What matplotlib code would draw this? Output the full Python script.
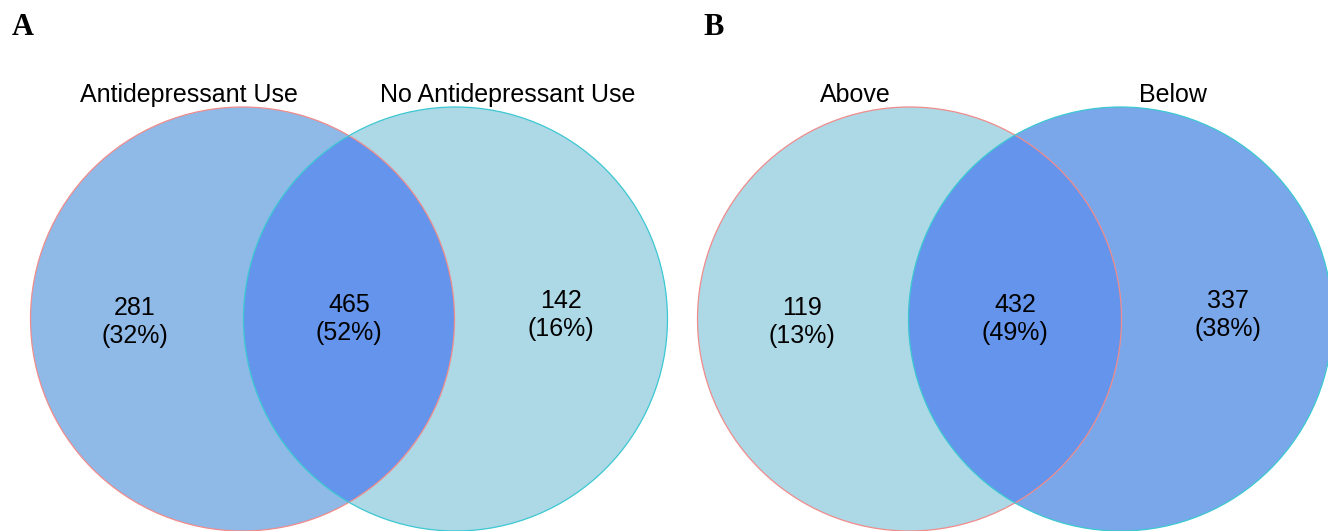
import matplotlib.pyplot as plt
from matplotlib.patches import Circle

# two-set overlap counts: (left only, both, right only)
set_names_a = ['Antidepressant Use', 'No Antidepressant Use']
counts_a = [281, 465, 142]
set_names_b = ['Above', 'Below']
counts_b = [119, 432, 337]

overlap_color = '#6494EB'
edge_left = '#F08C8C'
edge_right = '#3CC8D2'


def venn2(ax, x0, names, counts, fills, letter, letter_x, gap=425):
    # circle layout in pixel space (equal-size circles, fixed overlap)
    r = 212
    cy = 319
    cl = x0 + 212
    cr = x0 + gap
    total = sum(counts)
    pct = [round(100 * c / total) for c in counts]

    left = Circle((cl, cy), r, facecolor=fills[0], edgecolor='none', zorder=1)
    right = Circle((cr, cy), r, facecolor=fills[1], edgecolor='none', zorder=1)
    ax.add_patch(left)
    ax.add_patch(right)
    # intersection: left circle clipped by the right one
    inter = Circle((cl, cy), r, facecolor=overlap_color, edgecolor='none', zorder=2)
    ax.add_patch(inter)
    inter.set_clip_path(right)
    ax.add_patch(Circle((cl, cy), r, fill=False, edgecolor=edge_left, lw=0.9, zorder=3))
    ax.add_patch(Circle((cr, cy), r, fill=False, edgecolor=edge_right, lw=0.9, zorder=3))

    # region labels
    xs = [x0 + 104, (cl + cr) / 2, x0 + 530]
    ys = [322, 319, 315]
    for x, y, c, p in zip(xs, ys, counts, pct):
        ax.text(x, y, f'{c}\n({p}%)', ha='center', va='center', fontsize=18,
                family='Liberation Sans', linespacing=1.2, zorder=4)

    ax.text(cl - 54, 95, names[0], ha='center', va='center', fontsize=18,
            family='Liberation Sans')
    ax.text(cr + 52, 95, names[1], ha='center', va='center', fontsize=18,
            family='Liberation Sans')
    ax.text(letter_x, 35, letter, ha='left', va='baseline', fontsize=22,
            family='Liberation Serif', fontweight='bold')


fig = plt.figure(figsize=(13.28, 5.31), dpi=100)
ax = fig.add_axes([0, 0, 1, 1])
ax.set_xlim(0, 1328)
ax.set_ylim(531, 0)
ax.set_aspect('equal')
ax.axis('off')

venn2(ax, 30.5, set_names_a, counts_a, ['#8FB9E7', '#ADD8E6'], 'A', 12)
venn2(ax, 697.5, set_names_b, counts_b, ['#ADD8E6', '#7AA7E9'], 'B', 703, gap=423)

fig.savefig('out.png', dpi=100)
